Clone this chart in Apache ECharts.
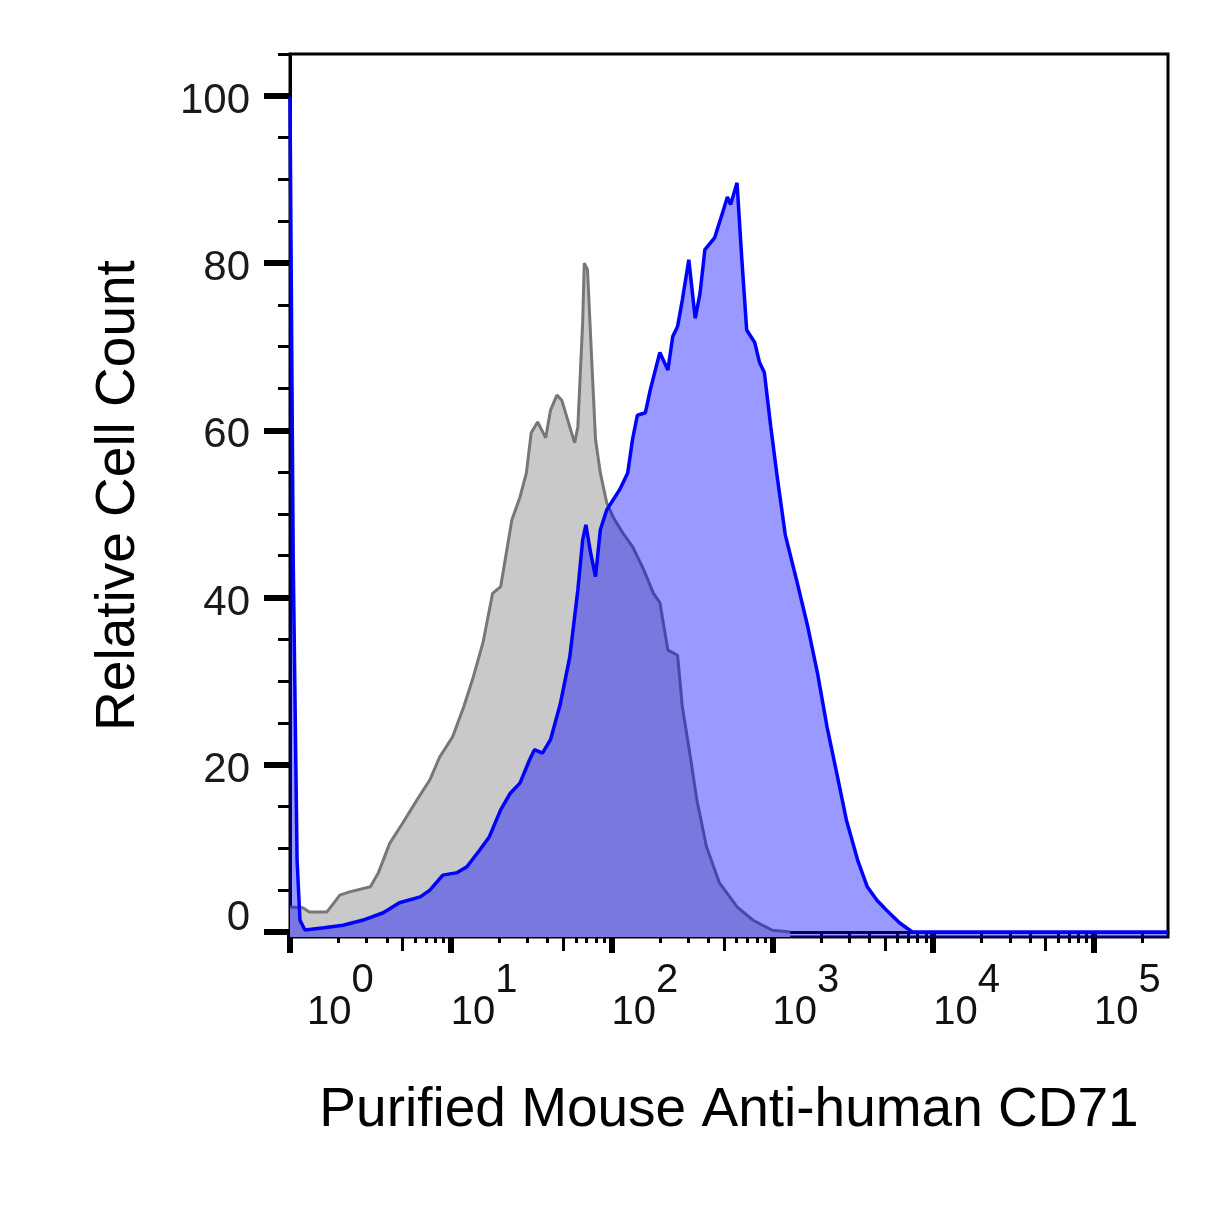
<!DOCTYPE html>
<html>
<head>
<meta charset="utf-8">
<title>CD71 histogram</title>
<style>
    html, body { margin: 0; padding: 0; background: #fff; }
    #main { width: 1229px; height: 1226px; }
</style>
</head>
<body>
<div id="main"></div>
<script src="https://cdn.jsdelivr.net/npm/echarts@6/dist/echarts.min.js"></script>
<script>
    // x = log10(fluorescence), y = relative cell count
    var isotype = [
        [0.00, 3.0], [0.08, 2.9], [0.12, 2.4], [0.23, 2.4], [0.31, 4.4], [0.37, 4.8], [0.50, 5.4],
        [0.55, 7.1], [0.62, 10.6], [0.70, 13.0], [0.79, 15.8], [0.87, 18.2], [0.93, 20.9],
        [1.01, 23.3], [1.08, 26.9], [1.14, 30.5], [1.20, 34.6], [1.26, 40.5], [1.31, 41.3],
        [1.38, 49.3], [1.43, 52.0], [1.47, 54.9], [1.50, 59.7], [1.54, 61.0], [1.59, 59.1],
        [1.62, 62.4], [1.66, 64.2], [1.69, 63.6], [1.74, 60.4], [1.77, 58.5], [1.79, 60.4],
        [1.82, 72.9], [1.83, 80.0], [1.85, 79.2], [1.88, 66.9], [1.90, 58.9], [1.93, 54.9],
        [1.97, 51.3], [2.01, 49.6], [2.07, 47.7], [2.13, 46.1], [2.20, 43.3], [2.26, 40.5],
        [2.30, 39.4], [2.35, 33.7], [2.41, 33.1], [2.44, 26.9], [2.49, 20.9], [2.53, 15.8],
        [2.59, 10.2], [2.67, 5.9], [2.78, 3.0], [2.88, 1.4], [3.00, 0.2], [3.11, 0]
    ];
    var cd71 = [
        [0.00, 99.9], [0.02, 44.5], [0.044, 8.6], [0.062, 1.4], [0.093, 0.24], [0.21, 0.5],
        [0.33, 0.8], [0.45, 1.4], [0.58, 2.3], [0.68, 3.5], [0.81, 4.2], [0.87, 5.0], [0.95, 6.8],
        [1.04, 7.1], [1.10, 7.8], [1.18, 9.8], [1.24, 11.4], [1.31, 14.6], [1.37, 16.6],
        [1.43, 17.8], [1.49, 20.6], [1.52, 21.8], [1.57, 21.4], [1.62, 23.0], [1.68, 27.2],
        [1.74, 32.9], [1.79, 40.9], [1.82, 46.9], [1.84, 48.7], [1.87, 45.3], [1.90, 42.5],
        [1.93, 48.1], [1.97, 50.5], [2.01, 51.7], [2.05, 52.9], [2.10, 54.9], [2.13, 58.9],
        [2.16, 61.8], [2.21, 62.1], [2.24, 64.8], [2.30, 69.3], [2.35, 67.2], [2.38, 71.2],
        [2.41, 72.4], [2.44, 75.6], [2.48, 80.4], [2.52, 73.4], [2.55, 76.4], [2.58, 81.6],
        [2.64, 83.0], [2.67, 84.8], [2.72, 87.9], [2.74, 87.0], [2.78, 89.6], [2.81, 80.4],
        [2.84, 72.0], [2.89, 70.5], [2.92, 68.1], [2.95, 66.9], [2.99, 60.4], [3.03, 54.4],
        [3.08, 47.5], [3.15, 42.1], [3.22, 36.5], [3.28, 31.0], [3.34, 24.5], [3.40, 19.0],
        [3.46, 13.4], [3.53, 8.6], [3.59, 5.4], [3.65, 3.8], [3.71, 2.6], [3.79, 1.1],
        [3.87, 0], [5.46, 0]
    ];

    var yMajor = [0, 20, 40, 60, 80, 100];
    var yMinor = [5, 10, 15, 25, 30, 35, 45, 50, 55, 65, 70, 75, 85, 90, 95, 105];
    var xDecades = [0, 1, 2, 3, 4, 5];
    var xMinorMult = [2, 3, 4, 6, 7, 8, 9];
    var xMidMult = [5];

    var X_MIN = 0, X_MAX = 5.46, Y_MIN = -0.6, Y_MAX = 105;
    var FONT = '"Liberation Sans", Arial, sans-serif';

    function logTicks(mults) {
        var out = [];
        xDecades.forEach(function (d) {
            mults.forEach(function (m) {
                var v = d + Math.log10(m);
                if (v < X_MAX) out.push(v);
            });
        });
        return out;
    }

    function tickAxis(values, len) {
        return {
            type: 'value', min: X_MIN, max: X_MAX, position: 'bottom',
            axisLine: { show: false },
            axisTick: { show: true, length: len, customValues: values,
                        lineStyle: { color: '#000', width: 3 } },
            axisLabel: { show: false },
            splitLine: { show: false }
        };
    }

    var chart = echarts.init(document.getElementById('main'));
    var option = {
        backgroundColor: '#fff',
        animation: false,
        grid: {
            left: 290, right: 61, top: 54, bottom: 289,
            show: true, borderColor: '#000', borderWidth: 3, backgroundColor: 'transparent'
        },
        xAxis: [
            {
                type: 'value', min: X_MIN, max: X_MAX, position: 'bottom',
                name: 'Purified Mouse Anti-human CD71',
                nameLocation: 'middle', nameGap: 146,
                nameTextStyle: { fontFamily: FONT, fontSize: 55, color: '#000' },
                axisLine: { show: true, lineStyle: { color: '#000', width: 3 } },
                axisTick: { show: true, length: 21, customValues: xDecades,
                            lineStyle: { color: '#000', width: 6 } },
                axisLabel: {
                    customValues: xDecades,
                    align: 'left',
                    margin: 24,
                    formatter: function (v) {
                        return (v === 0 ? '{b0|10}' : '{b|10}') + '{s|' + v + '}';
                    },
                    rich: {
                        b: { fontFamily: FONT, fontSize: 40, color: '#111', verticalAlign: 'bottom' },
                        b0: { fontFamily: FONT, fontSize: 40, color: '#111', verticalAlign: 'bottom',
                              padding: [0, 0, 0, 17] },
                        s: { fontFamily: FONT, fontSize: 40, color: '#111', verticalAlign: 'middle',
                             padding: [0, 0, 32, 0] }
                    }
                },
                splitLine: { show: false }
            },
            tickAxis(logTicks(xMinorMult), 11),
            tickAxis(logTicks(xMidMult), 14)
        ],
        yAxis: [
            {
                type: 'value', min: Y_MIN, max: Y_MAX, position: 'left',
                name: 'Relative Cell Count',
                nameLocation: 'middle', nameGap: 144,
                nameTextStyle: { fontFamily: FONT, fontSize: 55, color: '#000' },
                axisLine: { show: true, lineStyle: { color: '#000', width: 3 } },
                axisTick: { show: true, length: 26, customValues: yMajor,
                            lineStyle: { color: '#000', width: 6 } },
                axisLabel: {
                    customValues: yMajor,
                    margin: 40,
                    formatter: function (v) {
                        return v === 0 ? '{z|0}' : '{n|' + v + '}';
                    },
                    rich: {
                        n: { fontFamily: FONT, fontSize: 42, color: '#1a1a1a', padding: [11, 0, 0, 0] },
                        z: { fontFamily: FONT, fontSize: 42, color: '#1a1a1a', padding: [0, 0, 27, 0] }
                    }
                },
                splitLine: { show: false }
            },
            {
                type: 'value', min: Y_MIN, max: Y_MAX, position: 'left',
                axisLine: { show: false },
                axisTick: { show: true, length: 12, customValues: yMinor,
                            lineStyle: { color: '#000', width: 3 } },
                axisLabel: { show: false },
                splitLine: { show: false }
            }
        ],
        series: [
            {
                name: 'Isotype', type: 'line', data: isotype,
                xAxisIndex: 0, yAxisIndex: 0,
                symbol: 'none', clip: false,
                lineStyle: { color: '#777777', width: 3 },
                areaStyle: { color: '#c9c9c9', opacity: 1, origin: 'start' },
                z: 2
            },
            {
                name: 'CD71', type: 'line', data: cd71,
                xAxisIndex: 0, yAxisIndex: 0,
                symbol: 'none', clip: false,
                lineStyle: { color: '#0000ff', width: 3.5 },
                areaStyle: { color: 'rgba(0,0,255,0.4)', opacity: 1, origin: 'start' },
                z: 3
            }
        ]
    };
    chart.setOption(option);
</script>
</body>
</html>
